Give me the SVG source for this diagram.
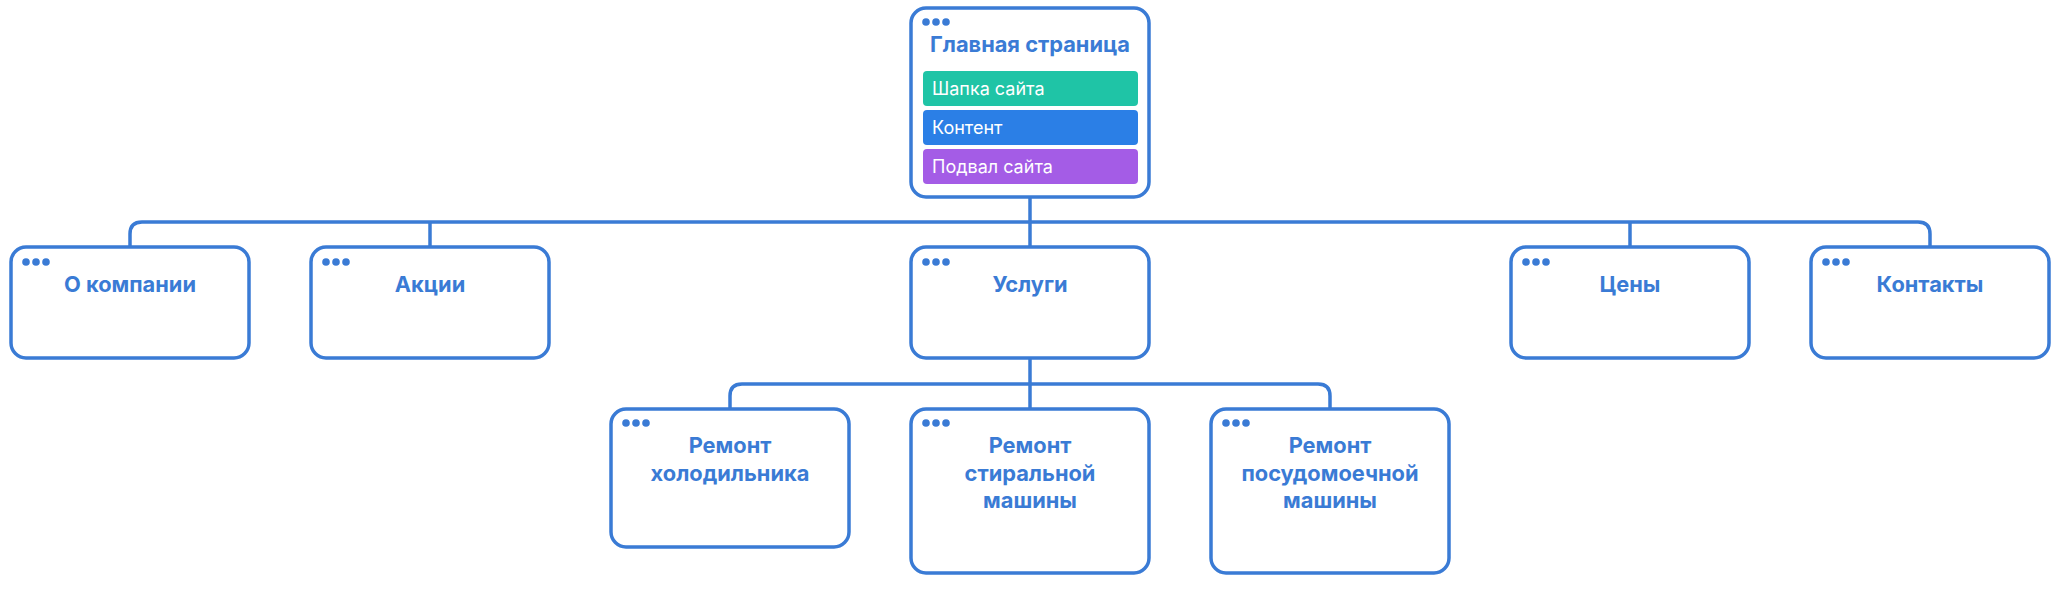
<svg xmlns="http://www.w3.org/2000/svg" width="2056" height="590" viewBox="0 0 2056 590">
<defs>
<style>
.node{fill:#ffffff;stroke:#3a7bd5;stroke-width:3.5}
.dot{fill:#3a7bd5}
.conn{fill:none;stroke:#3a7bd5;stroke-width:3.5}
.title{font-family:Inter,"Liberation Sans",sans-serif;font-weight:700;font-size:21.8px;fill:#3a7bd5;text-anchor:middle}
.bar{font-family:Inter,"Liberation Sans",sans-serif;font-weight:400;font-size:18px;fill:#ffffff}
</style>
<g id="dots"><circle cx="0" cy="0" r="3.8" class="dot"/><circle cx="10" cy="0" r="3.8" class="dot"/><circle cx="20" cy="0" r="3.8" class="dot"/></g>
</defs>
<rect width="2056" height="590" fill="#ffffff"/>
<g id="connectors">
<path class="conn" d="M1030 197 V247"/>
<path class="conn" d="M130 247 V234 Q130 222 142 222 H1918 Q1930 222 1930 234 V247"/>
<path class="conn" d="M430 222 V247"/>
<path class="conn" d="M1630 222 V247"/>
<path class="conn" d="M1030 358 V409"/>
<path class="conn" d="M730 409 V396 Q730 384 742 384 H1318 Q1330 384 1330 396 V409"/>
</g>
<g id="node-main">
<rect class="node" x="911" y="8" width="238" height="189" rx="15"/>
<use href="#dots" x="926" y="22"/>
<text class="title" x="1030" y="52">Главная страница</text>
<rect x="923" y="71" width="215" height="35" rx="4" fill="#1fc4a6"/>
<text class="bar" x="932" y="95">Шапка сайта</text>
<rect x="923" y="110" width="215" height="35" rx="4" fill="#2b7fe6"/>
<text class="bar" x="932" y="134">Контент</text>
<rect x="923" y="149" width="215" height="35" rx="4" fill="#a45ce6"/>
<text class="bar" x="932" y="173">Подвал сайта</text>
</g>
<g id="node-about">
<rect class="node" x="11" y="247" width="238" height="111" rx="15"/>
<use href="#dots" x="26" y="262"/>
<text class="title" x="130" y="292">О компании</text>
</g>
<g id="node-promo">
<rect class="node" x="311" y="247" width="238" height="111" rx="15"/>
<use href="#dots" x="326" y="262"/>
<text class="title" x="430" y="292">Акции</text>
</g>
<g id="node-services">
<rect class="node" x="911" y="247" width="238" height="111" rx="15"/>
<use href="#dots" x="926" y="262"/>
<text class="title" x="1030" y="292">Услуги</text>
</g>
<g id="node-prices">
<rect class="node" x="1511" y="247" width="238" height="111" rx="15"/>
<use href="#dots" x="1526" y="262"/>
<text class="title" x="1630" y="292">Цены</text>
</g>
<g id="node-contacts">
<rect class="node" x="1811" y="247" width="238" height="111" rx="15"/>
<use href="#dots" x="1826" y="262"/>
<text class="title" x="1930" y="292">Контакты</text>
</g>
<g id="node-fridge">
<rect class="node" x="611" y="409" width="238" height="138" rx="15"/>
<use href="#dots" x="626" y="423"/>
<text class="title" x="730" y="453">Ремонт</text>
<text class="title" x="730" y="481">холодильника</text>
</g>
<g id="node-washer">
<rect class="node" x="911" y="409" width="238" height="164" rx="15"/>
<use href="#dots" x="926" y="423"/>
<text class="title" x="1030" y="453">Ремонт</text>
<text class="title" x="1030" y="481">стиральной</text>
<text class="title" x="1030" y="508">машины</text>
</g>
<g id="node-dishwasher">
<rect class="node" x="1211" y="409" width="238" height="164" rx="15"/>
<use href="#dots" x="1226" y="423"/>
<text class="title" x="1330" y="453">Ремонт</text>
<text class="title" x="1330" y="481">посудомоечной</text>
<text class="title" x="1330" y="508">машины</text>
</g>
</svg>
